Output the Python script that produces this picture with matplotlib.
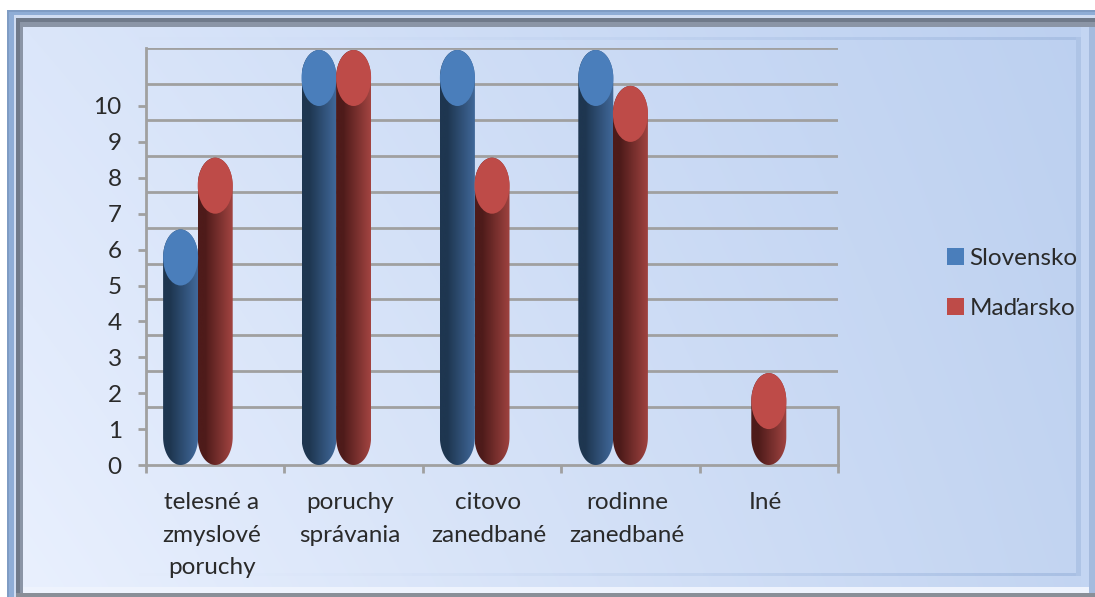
import numpy as np
import matplotlib
matplotlib.use("Agg")
import matplotlib.pyplot as plt
from matplotlib.patches import Rectangle, Patch, Ellipse
from matplotlib.path import Path
from matplotlib.colors import LinearSegmentedColormap

categories = ["telesné a\nzmyslové\nporuchy", "poruchy\nsprávania", "citovo\nzanedbané", "rodinne\nzanedbané", "Iné"]
slovensko = [5, 10, 10, 10, 0]
madarsko = [7, 10, 7, 9, 1]
y_ticks = list(range(0, 11))

W, H = 1095, 597
plt.rcParams['font.family'] = ['Lato', 'DejaVu Sans']
fig = plt.figure(figsize=(W / 100, H / 100), dpi=100, facecolor='white')

# Frame and background, in pixel coordinates
bg = fig.add_axes([0, 0, 1, 1])
bg.set_xlim(0, W)
bg.set_ylim(H, 0)
bg.axis('off')

def band(x0, y0, x1, y1, c, z=1):
    bg.add_patch(Rectangle((x0, y0), x1 - x0, y1 - y0, fc=c, ec='none', zorder=z))

band(7, 10, W, H, '#7f9cc4')
band(9, 12, W, H, '#8fadd6', 1.1)
band(14, 15, W, H, '#cfdcf2', 1.2)
band(16, 18, W, H, '#707a8a', 1.3)
band(20, 22, W, H, '#8b95a6', 1.4)
u, v_ = np.meshgrid(np.linspace(0, 1, 200), np.linspace(0, 1, 100))
tl, tr = np.array([0xdb, 0xe6, 0xfa]), np.array([0xbc, 0xd0, 0xf0])
bl, br = np.array([0xe9, 0xf0, 0xfe]), np.array([0xc2, 0xd4, 0xf1])
ramp = (((1 - u) * (1 - v_))[..., None] * tl + (u * (1 - v_))[..., None] * tr
        + ((1 - u) * v_)[..., None] * bl + (u * v_)[..., None] * br) / 255
bg.imshow(ramp, extent=(23, W, 588, 27), interpolation='bilinear', aspect='auto', zorder=2)
band(23, 587, W, 593, '#eef3fd', 2.1)
band(16, 593, W, H, '#8a8f98', 2.2)
band(1076, 37, 1081, 576, '#aec4e6', 2.3)
fade = np.zeros((1, 200, 4))
fade[..., :3] = np.array([0xa9, 0xc0, 0xe4]) / 255
fade[..., 3] = np.linspace(0, 1, 200) ** 2.5
bg.imshow(fade, extent=(23, 1076, 576, 573), aspect='auto', zorder=2.3)
bg.imshow(fade, extent=(23, 1076, 40, 37), aspect='auto', zorder=2.3)
band(1081, 27, 1089, 587, '#c3d5f2', 2.35)
band(1089, 27, W, 593, '#a5bbde', 2.4)
bg.set_xlim(0, W)
bg.set_ylim(H, 0)

# Chart axes
ax = fig.add_axes([146 / W, 1 - 465 / H, 692 / W, 417 / H])
ax.patch.set_alpha(0)
unit = 35.9
depth = 22 / unit
ax.set_xlim(0, 5)
ax.set_ylim(0, 417 / unit)
GRID = '#a0a0a0'
FS = 17.5
for s in ('top', 'right'):
    ax.spines[s].set_visible(False)
for s in ('left', 'bottom'):
    ax.spines[s].set_color(GRID)
    ax.spines[s].set_linewidth(2)
ax.set_yticks(y_ticks)
ax.set_xticks(range(6))
ax.set_xticklabels([''] * 6)
ax.set_xticks(np.arange(5) + 0.475, minor=True)
ax.set_xticklabels(categories, minor=True, fontsize=FS, color='#2a2a2a', linespacing=1.68, va='top')
ax.tick_params(axis='x', which='major', length=5.5, width=2, color=GRID)
ax.tick_params(axis='x', which='minor', length=0, pad=19.5)
ax.tick_params(axis='y', length=5.5, width=2, color=GRID, labelsize=FS, labelcolor='#2a2a2a', pad=12)
for v in range(1, 12):
    ax.plot([0, 5], [v + depth] * 2, color=GRID, lw=2, zorder=1, solid_capstyle='butt')
ax.plot([5, 5], [0, 1 + depth], color=GRID, lw=2, zorder=1, clip_on=False)

BAR_W = 35 / 138.4
E_H = 56 / unit

def cylinder(xc, v, dark, light, top):
    y0 = E_H / 2
    y1 = v + E_H / 2
    rx, ry = BAR_W / 2, E_H / 2
    t = np.linspace(np.pi, 2 * np.pi, 60)
    lower = np.c_[xc + rx * np.cos(t), y0 + ry * np.sin(t)]
    t2 = np.linspace(0, np.pi, 60)
    upper = np.c_[xc + rx * np.cos(t2), y1 + ry * np.sin(t2)]
    path = Path(np.vstack([lower, upper, lower[:1]]))
    cmap = LinearSegmentedColormap.from_list('c', [(0, dark), (0.2, dark), (1, light)])
    im = ax.imshow(np.linspace(0, 1, 64)[None, :], cmap=cmap, aspect='auto',
                   extent=(xc - rx, xc + rx, 0, y1 + ry), zorder=3, interpolation='bilinear')
    im.set_clip_path(path, transform=ax.transData)
    ax.add_patch(Ellipse((xc, y1), BAR_W, E_H, fc=top, ec='none', zorder=3.5))

for i in range(5):
    if slovensko[i] > 0:
        cylinder(i + 0.25, slovensko[i], '#1e3650', '#41699b', '#4a7ebb')
    if madarsko[i] > 0:
        cylinder(i + 0.5, madarsko[i], '#4e1b1a', '#a24441', '#be4b48')
ax.set_xlim(0, 5)
ax.set_ylim(0, 417 / unit)

handles = [Patch(fc='#4a7ebb', ec='none', label='Slovensko'), Patch(fc='#be4b48', ec='none', label='Maďarsko')]
fig.legend(handles=handles, loc='center left', bbox_to_anchor=(947 / W, 1 - 283.5 / H), frameon=False,
           fontsize=FS, labelcolor='#2a2a2a', handlelength=0.68, handleheight=0.68, handletextpad=0.25,
           labelspacing=1.17, borderpad=0, borderaxespad=0)

fig.savefig('out.png', dpi=100)
